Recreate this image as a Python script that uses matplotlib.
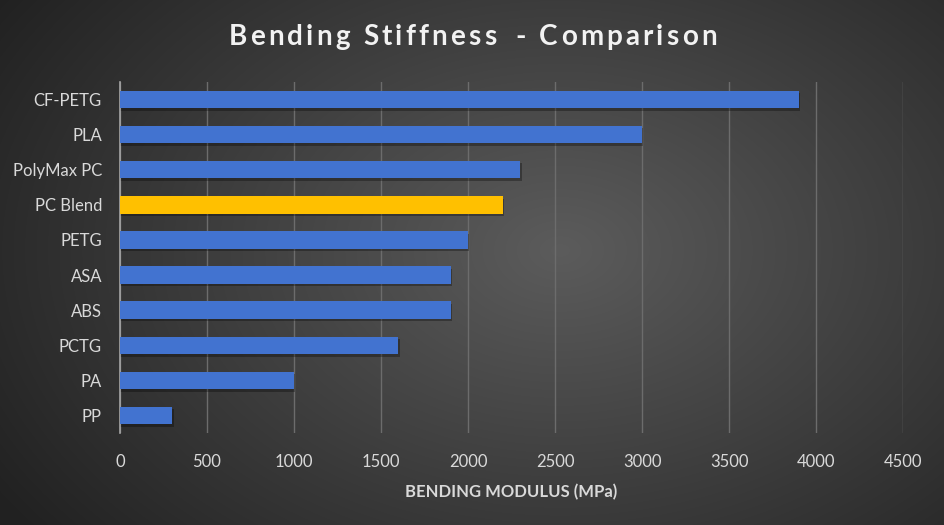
import numpy as np
import matplotlib.pyplot as plt

# Data (bottom to top)
materials = ['PP', 'PA', 'PCTG', 'ABS', 'ASA', 'PETG', 'PC Blend', 'PolyMax PC', 'PLA', 'CF-PETG']
modulus = [300, 1000, 1600, 1900, 1900, 2000, 2200, 2300, 3000, 3900]
highlight = 'PC Blend'
xticks = [0, 500, 1000, 1500, 2000, 2500, 3000, 3500, 4000, 4500]
title = 'Bending Stiffness - Comparison'

plt.rcParams['font.family'] = ['Lato', 'DejaVu Sans']

fig = plt.figure(figsize=(9.45, 5.25), dpi=100)

# Radial gradient background
bg = fig.add_axes([0, 0, 1, 1], zorder=-10)
yy, xx = np.mgrid[0:525, 0:945]
r = np.sqrt(((xx - 560) / 700.0) ** 2 + ((yy - 250) / 480.0) ** 2)
shade = np.clip(0.36 - 0.24 * r, 0.13, 0.36)
bg.imshow(np.dstack([shade, shade, shade]), aspect='auto', extent=[0, 1, 0, 1])
bg.axis('off')

ax = fig.add_axes([0.127, 0.175, 0.8286, 0.669])
ax.set_facecolor('none')

y = np.arange(len(materials))
colors = ['#FFC000' if m == highlight else '#4273D0' for m in materials]
# soft drop shadow
ax.barh(y - 0.07, [v + 8 for v in modulus], height=0.5, color='black', alpha=0.3, zorder=2)
ax.barh(y, modulus, height=0.5, color=colors, zorder=3)

ax.set_xlim(0, 4500)
ax.set_ylim(-0.5, len(materials) - 0.5)
ax.set_xticks(xticks)
ax.set_yticks(y)
ax.set_yticklabels(materials)
ax.tick_params(axis='both', colors='#d9d9d9', labelsize=12, length=0)
ax.tick_params(axis='y', pad=13)
ax.tick_params(axis='x', pad=15)
ax.grid(axis='x', color='#6c6c6c', linewidth=1, zorder=0)
ax.set_axisbelow(True)
for s in ['top', 'right', 'bottom']:
    ax.spines[s].set_visible(False)
ax.spines['left'].set_color('#a6a6a6')
ax.spines['left'].set_linewidth(1.2)

ax.set_xlabel('BENDING MODULUS (MPa)', color='#d9d9d9', fontsize=12, fontweight='bold', labelpad=10)

# Title with letter spacing, placed char by char
renderer = fig.canvas.get_renderer()
def text_width(s):
    t = fig.text(0, 0, s, fontsize=20, fontweight='bold')
    w = t.get_window_extent(renderer).width
    t.remove()
    return w

spacing = 3.2
extra_gap = {18: 6}  # slightly wider gap before the dash
ref_w = text_width('x')
offsets = []
shift = 0
for i in range(len(title)):
    shift += extra_gap.get(i, 0)
    offsets.append(text_width(title[:i] + 'x') - ref_w + i * spacing + shift)
total = text_width(title) + (len(title) - 1) * spacing + shift
x0 = 945 / 2 - total / 2
for ch, off in zip(title, offsets):
    if ch != ' ':
        fig.text((x0 + off) / 945, 0.93, ch, color='#f2f2f2', fontsize=20,
                 fontweight='bold', ha='left', va='center')

fig.savefig('out.png', dpi=100)
